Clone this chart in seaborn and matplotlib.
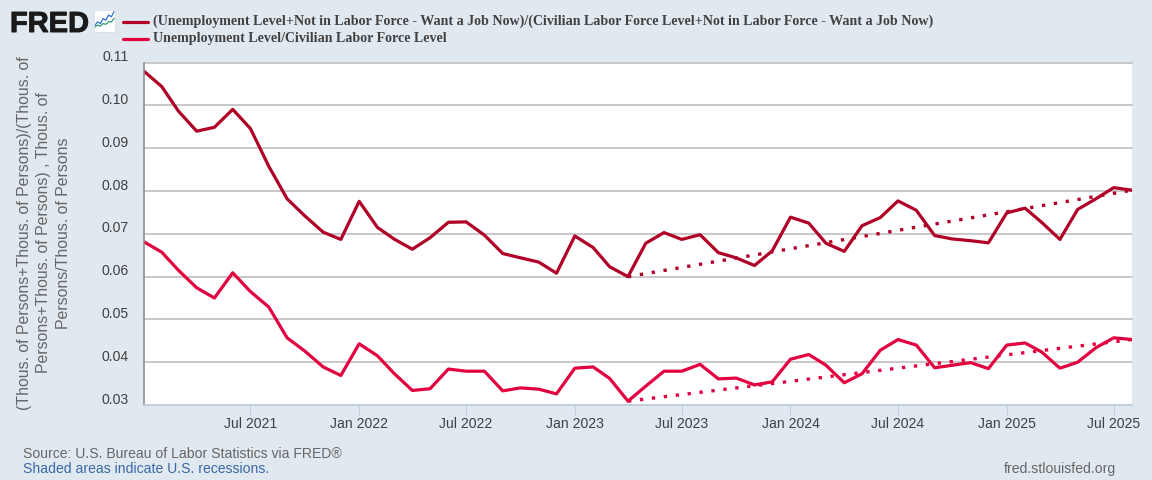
#!/usr/bin/env python3
# FRED chart: unemployment rate vs. rate including people who want a job
import pandas as pd
import matplotlib
matplotlib.use("Agg")
import matplotlib.pyplot as plt
import matplotlib.patheffects as pe
import seaborn as sns
from matplotlib.lines import Line2D
from matplotlib.transforms import ScaledTranslation

# monthly values, Jan 2021 - Aug 2025
months = pd.date_range("2021-01-01", "2025-08-01", freq="MS")
want_job_rate = [
    0.1081, 0.1044, 0.0987, 0.0940, 0.0949, 0.0991, 0.0946, 0.0858, 0.0782, 0.0742, 0.0704, 0.0687,
    0.0776, 0.0715, 0.0688, 0.0664, 0.0691, 0.0727, 0.0728, 0.0697, 0.0654, 0.0644, 0.0634, 0.0608,
    0.0695, 0.0668, 0.0623, 0.0600, 0.0678, 0.0703, 0.0687, 0.0698, 0.0656, 0.0644, 0.0626, 0.0660,
    0.0739, 0.0725, 0.0678, 0.0659, 0.0719, 0.0738, 0.0777, 0.0755, 0.0696, 0.0688, 0.0684, 0.0679,
    0.0749, 0.0760, 0.0727, 0.0687, 0.0757, 0.0782, 0.0808, 0.0802,
]
unemp_rate = [
    0.0682, 0.0657, 0.0615, 0.0574, 0.0550, 0.0609, 0.0565, 0.0529, 0.0457, 0.0426, 0.0389, 0.0369,
    0.0443, 0.0415, 0.0374, 0.0334, 0.0338, 0.0384, 0.0379, 0.0379, 0.0333, 0.0340, 0.0337, 0.0326,
    0.0386, 0.0389, 0.0362, 0.0309, 0.0344, 0.0379, 0.0379, 0.0395, 0.0361, 0.0363, 0.0347, 0.0354,
    0.0407, 0.0418, 0.0393, 0.0352, 0.0373, 0.0428, 0.0453, 0.0440, 0.0387, 0.0393, 0.0399, 0.0385,
    0.0440, 0.0445, 0.0424, 0.0386, 0.0400, 0.0434, 0.0457, 0.0453,
]
# dotted lines run from the Apr 2023 low to the last month
trend_dates = pd.to_datetime(["2023-04-01", "2025-08-01"])
want_job_trend = [0.0600, 0.0802]
unemp_trend = [0.0309, 0.0453]

y_ticks = [0.03, 0.04, 0.05, 0.06, 0.07, 0.08, 0.09, 0.10, 0.11]
x_ticks = pd.to_datetime(["2021-07-01", "2022-01-01", "2022-07-01", "2023-01-01", "2023-07-01",
                          "2024-01-01", "2024-07-01", "2025-01-01", "2025-07-01"])
x_labels = ["Jul 2021", "Jan 2022", "Jul 2022", "Jan 2023", "Jul 2023",
            "Jan 2024", "Jul 2024", "Jan 2025", "Jul 2025"]

name_1 = "(Unemployment Level+Not in Labor Force - Want a Job Now)/(Civilian Labor Force Level+Not in Labor Force - Want a Job Now)"
name_2 = "Unemployment Level/Civilian Labor Force Level"
y_title = "(Thous. of Persons+Thous. of Persons)/(Thous. of\nPersons+Thous. of Persons) , Thous. of\nPersons/Thous. of Persons"

icon_blue = [1, 3, 2, 5, 4, 7, 6, 9]
icon_green = [0, 1, 0.5, 2, 1.5, 3, 3, 5]

DARK = "#b00027"
RED = "#e2003f"
BG = "#e1e9f0"
W, H = 1152, 480

sns.set_theme(style="white", rc={"font.family": ["Liberation Sans", "DejaVu Sans"]})

fig = plt.figure(figsize=(W / 100, H / 100), dpi=100, facecolor=BG)
ax = fig.add_axes([143.5 / W, 1 - 405 / H, (1132 - 143.5) / W, (405 - 62.7) / H])

df = pd.DataFrame({"date": months, "a": want_job_rate, "b": unemp_rate})
long_df = df.melt(id_vars="date", var_name="series", value_name="rate")
sns.lineplot(data=long_df, x="date", y="rate", hue="series", palette={"a": DARK, "b": RED},
             linewidth=2.3, legend=False, errorbar=None, ax=ax)

# dotted trend lines
for vals, col in [(want_job_trend, DARK), (unemp_trend, RED)]:
    sns.lineplot(x=trend_dates, y=vals, color=col, linewidth=2.4, linestyle=(0, (1, 2.6)),
                 dash_capstyle="butt", errorbar=None, ax=ax)

ax.set_xlim(months[0], months[-1])
ax.set_ylim(0.03, 0.11)
ax.set_yticks(y_ticks)
ax.set_yticklabels(["%.2f" % v for v in y_ticks])
ax.set_xticks(x_ticks)
ax.set_xticklabels(x_labels)
ax.set_xlabel("")
ax.set_ylabel("")
ax.set_facecolor("white")
ax.grid(axis="y", color="#c4c4c4", linewidth=1.3)
ax.set_axisbelow(True)
for gl in ax.get_ygridlines():
    gl.set_clip_on(False)
for side in ["top", "right"]:
    ax.spines[side].set_visible(False)
ax.spines["left"].set_color("#8f8f8f")
ax.spines["left"].set_linewidth(1.2)
ax.spines["bottom"].set_color("#c0d0e0")
ax.spines["bottom"].set_linewidth(1.2)
ax.tick_params(axis="x", length=7.5, width=0.8, color="#c0d0e0", labelsize=10.1,
               labelcolor="#404040", pad=1.5, bottom=True)
ax.tick_params(axis="y", length=0, labelsize=10.1, labelcolor="#404040", pad=10.5)

# FRED puts the y labels above their grid lines
shift = ScaledTranslation(0, 7 / 100, fig.dpi_scale_trans)
for lab in ax.get_yticklabels():
    lab.set_transform(lab.get_transform() + shift)

fig.text(44 / W, 1 - 233 / H, y_title, rotation=90, ha="center", va="center", ma="center",
         fontsize=11.4, color="#666666", linespacing=1.4)

# legend
for y, col, txt in [(21.5, DARK, name_1), (38.5, RED, name_2)]:
    fig.add_artist(Line2D([123 / W, 148 / W], [1 - y / H, 1 - y / H], color=col, linewidth=2.3))
    fig.text(153 / W, 1 - y / H, txt, family="Liberation Serif", weight="bold", fontsize=10.1,
             color="#404040", va="center", ha="left")

# logo
logo = fig.text(10 / W, 1 - 32 / H, "FRED", family="Liberation Sans", weight="bold", fontsize=20.9,
                color="#1a1a1a", va="baseline", ha="left")
logo.set_path_effects([pe.withStroke(linewidth=0.7, foreground="#1a1a1a")])
icon = fig.add_axes([94 / W, 1 - 32 / H, 21 / W, 22 / H])
icon.plot(icon_blue, color="#2f6fd6", linewidth=0.9)
icon.plot(icon_green, color="#2f9a72", linewidth=0.9)
icon.set_xticks([])
icon.set_yticks([])
icon.set_facecolor("white")
icon.set_ylim(-3, 10)
for s in icon.spines.values():
    s.set_color("#d5dbe2")
    s.set_linewidth(0.5)

# footer
fig.text(23 / W, 1 - 454 / H, "Source: U.S. Bureau of Labor Statistics via FRED\u00ae", fontsize=10.08,
         color="#666666", va="center", ha="left")
fig.text(23 / W, 1 - 469 / H, "Shaded areas indicate U.S. recessions.", fontsize=10.08,
         color="#3a68a8", va="center", ha="left")
fig.text(1116 / W, 1 - 469 / H, "fred.stlouisfed.org", fontsize=10.08,
         color="#666666", va="center", ha="right")

fig.savefig("out.png", dpi=100, facecolor=BG)
